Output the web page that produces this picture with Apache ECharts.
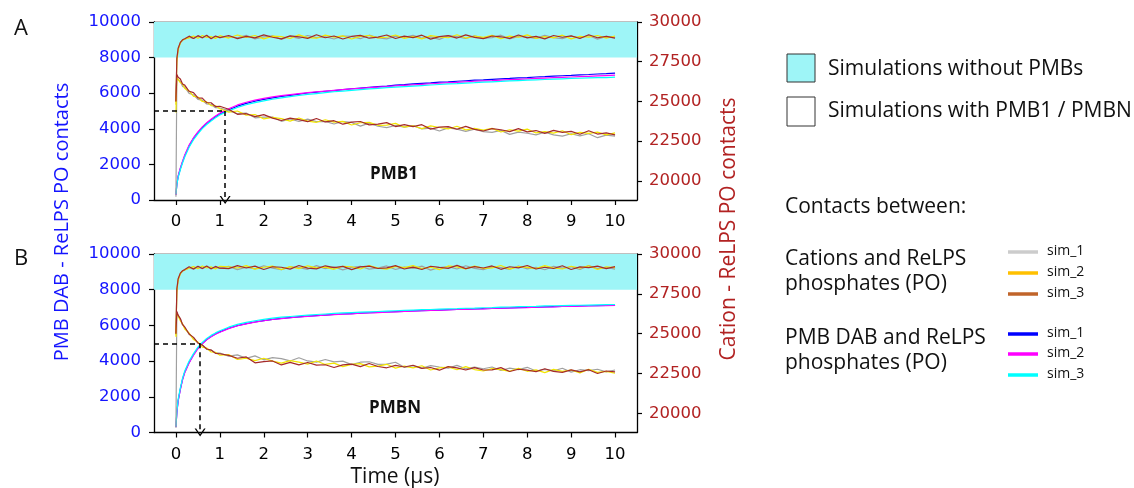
<!DOCTYPE html>
<html>
<head>
<meta charset="utf-8">
<script src="https://cdn.jsdelivr.net/npm/echarts@6/dist/echarts.min.js"></script>
<style>
html,body{margin:0;padding:0;background:#fff;}
#chart{width:1134px;height:488px;}
</style>
</head>
<body>
<div id="chart"></div>
<script>
// ---------------- DATA ----------------
const times = [0, 0.02, 0.05, 0.1, 0.15, 0.2, 0.3, 0.4, 0.5, 0.6, 0.7, 0.8, 0.9, 1.0,
  1.2, 1.4, 1.6, 1.8, 2.0, 2.2, 2.4, 2.6, 2.8, 3.0, 3.2, 3.4, 3.6, 3.8, 4.0,
  4.2, 4.4, 4.6, 4.8, 5.0, 5.2, 5.4, 5.6, 5.8, 6.0, 6.2, 6.4, 6.6, 6.8, 7.0,
  7.2, 7.4, 7.6, 7.8, 8.0, 8.2, 8.4, 8.6, 8.8, 9.0, 9.2, 9.4, 9.6, 9.8, 10.0];

const xTicks = [0, 1, 2, 3, 4, 5, 6, 7, 8, 9, 10];
const leftTicks = [0, 2000, 4000, 6000, 8000, 10000];
const rightTicks = [20000, 22500, 25000, 27500, 30000];
const bandRange = [8000, 10000];        // "Simulations without PMBs" shaded band (left axis units)
const aCross = [1.12, 5000];            // PMB1 crossing time
const bCross = [0.55, 5000];            // PMBN crossing time

// Panel A (PMB1) – PMB DAB / ReLPS PO contacts (left axis)
const aPmbSim1 = [300, 880, 1320, 1760, 2140, 2480, 3040, 3460, 3790, 4070, 4300, 4500, 4680, 4840,
  5070, 5270, 5430, 5550, 5650, 5740, 5820, 5880, 5950, 6010, 6060, 6110, 6150, 6200, 6250,
  6290, 6330, 6370, 6400, 6450, 6480, 6520, 6550, 6580, 6620, 6640, 6670, 6700, 6730, 6750,
  6780, 6810, 6830, 6860, 6880, 6910, 6930, 6960, 6980, 7000, 7030, 7050, 7080, 7100, 7130];
const aPmbSim2 = [280, 900, 1350, 1800, 2180, 2530, 3090, 3500, 3830, 4110, 4340, 4540, 4720, 4880,
  5130, 5340, 5490, 5610, 5710, 5790, 5860, 5920, 5980, 6030, 6080, 6120, 6160, 6200, 6240,
  6270, 6310, 6340, 6370, 6410, 6440, 6470, 6500, 6530, 6560, 6590, 6610, 6640, 6670, 6690,
  6710, 6740, 6760, 6780, 6810, 6830, 6850, 6870, 6890, 6910, 6930, 6950, 6970, 6990, 7010];
const aPmbSim3 = [320, 850, 1270, 1700, 2080, 2420, 2970, 3390, 3720, 4010, 4240, 4440, 4620, 4780,
  5010, 5200, 5350, 5470, 5570, 5660, 5740, 5810, 5870, 5930, 5980, 6030, 6080, 6120, 6160,
  6200, 6240, 6270, 6310, 6340, 6370, 6400, 6430, 6460, 6490, 6520, 6540, 6570, 6590, 6620,
  6640, 6660, 6690, 6710, 6730, 6750, 6770, 6790, 6810, 6830, 6840, 6860, 6870, 6880, 6900];

// Panel A – Cation / ReLPS PO contacts with PMB1 (right axis)
const aCatSim1 = [19000, 26450, 26350, 26260, 25950, 25900, 25510, 25420, 25130, 25080, 24840, 24810, 24610, 24590,
  24420, 24230, 24270, 23970, 24020, 24020, 23750, 23900, 23740, 23890, 23730, 23750, 23580, 23740, 23680,
  23450, 23640, 23440, 23350, 23490, 23380, 23480, 23270, 23320, 23140, 23340, 23260, 23120, 23260, 23100,
  23050, 23180, 22930, 23070, 23000, 22900, 23070, 22900, 22820, 22970, 22840, 22970, 22720, 22880, 22820];
const aCatSim2 = [24300, 26500, 26480, 26190, 26100, 25820, 25660, 25320, 25280, 25000, 24970, 24740, 24730, 24540,
  24330, 24400, 24140, 24180, 23900, 24000, 23920, 23760, 23960, 23760, 23690, 23850, 23700, 23750, 23520,
  23660, 23680, 23500, 23510, 23620, 23380, 23470, 23290, 23460, 23360, 23270, 23440, 23210, 23310, 23200,
  23310, 23080, 23220, 23130, 23260, 23020, 23110, 23010, 23160, 22910, 23060, 22990, 23070, 22900, 23020];
const aCatSim3 = [25000, 26700, 26520, 26420, 26100, 26030, 25640, 25560, 25230, 25210, 24930, 24920, 24680, 24700,
  24510, 24190, 24230, 24050, 24170, 23950, 23800, 23950, 23860, 23730, 23930, 23710, 23790, 23570, 23700,
  23740, 23530, 23570, 23670, 23420, 23540, 23420, 23540, 23260, 23390, 23420, 23250, 23430, 23240, 23140,
  23290, 23220, 23100, 23290, 23090, 23170, 22990, 23180, 23050, 23120, 22940, 23160, 22950, 23020, 22900];

// Panel A – Cation / ReLPS PO contacts without PMBs (right axis)
const aRefSim1 = [25200, 27600, 28300, 28700, 28850, 28920, 29050, 28960, 29100, 29000, 29130, 28980, 29080, 29010,
  29080, 29010, 29160, 28940, 29060, 29130, 28910, 29100, 28970, 29150, 29020, 29070, 28930, 29120, 29090,
  28950, 29170, 29000, 28940, 29110, 29030, 29160, 28980, 29060, 28910, 29140, 29080, 28960, 29130, 28990,
  29020, 29170, 28940, 29100, 29050, 28970, 29160, 29010, 28950, 29120, 29000, 29150, 28920, 29090, 29040];
const aRefSim2 = [24800, 27500, 28250, 28680, 28860, 28930, 29000, 29120, 28980, 29150, 29030, 29080, 28970, 29140,
  28990, 29180, 29030, 29150, 28940, 29110, 29080, 28960, 29190, 29020, 28980, 29170, 29050, 29130, 28930,
  29100, 29150, 29000, 29040, 29180, 28970, 29090, 28940, 29140, 29070, 29010, 29200, 28990, 29120, 29030,
  29160, 28950, 29110, 29040, 29190, 28970, 29080, 29000, 29170, 28940, 29100, 29050, 29150, 28990, 29120];
const aRefSim3 = [25000, 27700, 28350, 28720, 28880, 28950, 29110, 28960, 29140, 29010, 29170, 28950, 29120, 29020,
  29150, 28950, 29100, 29000, 29190, 29040, 28940, 29130, 29070, 28970, 29200, 29010, 29120, 28930, 29090,
  29160, 28980, 29050, 29180, 28960, 29110, 29020, 29170, 28920, 29080, 29140, 28990, 29190, 29030, 28950,
  29120, 29070, 28970, 29180, 29000, 29100, 28940, 29150, 29040, 29130, 28960, 29200, 29010, 29090, 28980];

// Panel B (PMBN) – PMB DAB / ReLPS PO contacts (left axis)
const bPmbSim1 = [310, 1120, 1780, 2430, 2980, 3380, 3930, 4360, 4720, 4990, 5210, 5380, 5520, 5640,
  5840, 5990, 6100, 6190, 6270, 6340, 6390, 6440, 6480, 6520, 6550, 6580, 6610, 6640, 6660,
  6690, 6710, 6730, 6750, 6770, 6790, 6810, 6820, 6840, 6860, 6880, 6890, 6910, 6920, 6940,
  6950, 6970, 6980, 7000, 7010, 7020, 7040, 7050, 7060, 7070, 7090, 7100, 7110, 7120, 7140];
const bPmbSim2 = [300, 1100, 1750, 2400, 2950, 3350, 3900, 4330, 4690, 4970, 5190, 5360, 5500, 5620,
  5820, 5980, 6090, 6180, 6260, 6330, 6380, 6430, 6470, 6510, 6540, 6570, 6600, 6630, 6650,
  6680, 6700, 6720, 6740, 6760, 6780, 6800, 6820, 6840, 6850, 6870, 6890, 6900, 6920, 6930,
  6950, 6960, 6980, 6990, 7000, 7020, 7030, 7040, 7060, 7070, 7080, 7090, 7100, 7110, 7120];
const bPmbSim3 = [330, 1200, 1850, 2500, 3050, 3450, 4000, 4420, 4780, 5050, 5270, 5440, 5580, 5700,
  5900, 6060, 6170, 6260, 6340, 6410, 6460, 6500, 6540, 6580, 6610, 6640, 6670, 6700, 6720,
  6740, 6760, 6780, 6800, 6820, 6840, 6860, 6880, 6890, 6910, 6930, 6940, 6960, 6970, 6990,
  7000, 7020, 7030, 7050, 7060, 7070, 7090, 7100, 7110, 7120, 7130, 7140, 7150, 7160, 7170];

// Panel B – Cation / ReLPS PO contacts with PMBN (right axis)
const bCatSim1 = [19100, 26350, 26120, 25920, 25550, 25400, 24960, 24750, 24400, 24280, 24020, 23980, 23790, 23780,
  23590, 23670, 23450, 23610, 23360, 23500, 23440, 23290, 23490, 23290, 23220, 23380, 23230, 23280, 23060,
  23210, 23240, 23070, 23090, 23210, 22890, 22990, 22820, 23000, 22910, 22840, 23010, 22790, 22900, 22800,
  22910, 22690, 22840, 22750, 22890, 22660, 22760, 22670, 22830, 22590, 22740, 22680, 22770, 22600, 22720];
const bCatSim2 = [24800, 26300, 26190, 25810, 25620, 25290, 25040, 24630, 24470, 24160, 24100, 23850, 23830, 23650,
  23690, 23380, 23460, 23310, 23460, 23280, 23150, 23310, 23220, 23090, 23290, 23070, 23150, 22930, 23070,
  23120, 22920, 22970, 23080, 22840, 22970, 22860, 22990, 22720, 22860, 22910, 22740, 22930, 22750, 22660,
  22810, 22750, 22640, 22830, 22640, 22730, 22560, 22760, 22640, 22720, 22540, 22770, 22570, 22640, 22520];
const bCatSim3 = [25000, 26400, 26160, 25950, 25580, 25420, 24980, 24770, 24420, 24290, 24040, 23970, 23770, 23740,
  23640, 23460, 23540, 23170, 23250, 23290, 23040, 23200, 23040, 23190, 23030, 23050, 22880, 23040, 23090,
  22930, 23130, 22940, 22860, 23010, 22910, 23020, 22820, 22880, 22710, 22930, 22850, 22720, 22870, 22720,
  22730, 22870, 22630, 22770, 22710, 22620, 22800, 22640, 22570, 22730, 22600, 22740, 22500, 22660, 22600];

// Panel B – Cation / ReLPS PO contacts without PMBs (right axis)
const bRefSim1 = [25200, 27700, 28400, 28780, 28920, 29000, 29140, 29050, 29190, 29080, 29220, 29060, 29170, 29100,
  29220, 29020, 29170, 29070, 29260, 29110, 29010, 29200, 29140, 29040, 29270, 29080, 29190, 29000, 29160,
  29230, 29050, 29120, 29250, 29030, 29180, 29090, 29240, 28990, 29150, 29210, 29060, 29260, 29100, 29020,
  29190, 29140, 29040, 29250, 29070, 29170, 29010, 29220, 29110, 29200, 29030, 29270, 29080, 29160, 29050];
const bRefSim2 = [24900, 27600, 28350, 28760, 28930, 29000, 29110, 29210, 29080, 29250, 29120, 29190, 29060, 29230,
  29190, 29120, 29270, 29050, 29170, 29240, 29020, 29210, 29080, 29260, 29130, 29180, 29040, 29230, 29200,
  29060, 29280, 29110, 29050, 29220, 29140, 29270, 29090, 29170, 29020, 29250, 29190, 29070, 29240, 29100,
  29130, 29280, 29050, 29210, 29160, 29080, 29270, 29120, 29060, 29230, 29110, 29260, 29030, 29200, 29150];
const bRefSim3 = [25000, 27800, 28450, 28800, 28950, 29020, 29200, 29060, 29230, 29090, 29250, 29070, 29220, 29110,
  29080, 29270, 29120, 29240, 29030, 29200, 29170, 29050, 29280, 29110, 29070, 29260, 29140, 29220, 29020,
  29190, 29240, 29090, 29130, 29270, 29060, 29180, 29030, 29230, 29160, 29100, 29290, 29080, 29210, 29120,
  29250, 29040, 29200, 29130, 29280, 29060, 29170, 29090, 29260, 29030, 29190, 29140, 29240, 29080, 29210];

// ---------------- STYLE ----------------
const BLUE = '#0000ff', MAG = '#ff00ff', CYAN = '#00ffff';
const GRAY = '#a0a0a0', YEL = '#f2e600', BRN = '#a52a2a';
const LEFT_COL = '#1414ff', RIGHT_COL = '#b22222';
const BAND = '#9ef5f7';
const TICK_FONT = 'DejaVu Sans';
const TEXT_FONT = '"Open Sans", "Noto Sans", sans-serif';

function line(vals, xi, yi, color, z, w) {
  return {
    type: 'line', xAxisIndex: xi, yAxisIndex: yi,
    data: times.map((t, i) => [t, vals[i]]),
    showSymbol: false, symbol: 'none', silent: true, z: z,
    lineStyle: { color: color, width: w || 1.2 }, itemStyle: { color: color },
    emphasis: { disabled: true }, animation: false
  };
}

const chevron = 'path://M0,10 L5,0 L10,10 L8.6,10 L5,2.8 L1.4,10 Z';
function helper(xi, yi, cross) {
  return {
    type: 'line', xAxisIndex: xi, yAxisIndex: yi, z: 1, silent: true, animation: false,
    data: [cross], showSymbol: false, symbol: 'none', lineStyle: { opacity: 0 },
    markArea: {
      silent: true, itemStyle: { color: BAND },
      data: [[{ yAxis: bandRange[0] }, { yAxis: bandRange[1] }]]
    },
    markLine: {
      silent: true, animation: false, symbol: ['none', 'none'],
      label: { show: false },
      lineStyle: { color: '#000', width: 1.5, type: [5, 4] },
      data: [
        [{ coord: [-0.5, cross[1]] }, { coord: [cross[0], cross[1]] }],
        [{ coord: [cross[0], cross[1]], symbol: 'none' },
         { coord: [cross[0], 0], symbol: chevron, symbolSize: [11, 8] }]
      ]
    }
  };
}

const plain = v => String(v);
function xAx(gi, bottom) {
  return {
    type: 'value', gridIndex: gi, min: -0.5, max: 10.5,
    position: bottom ? 'bottom' : 'top',
    axisLine: { show: true, onZero: false, lineStyle: { color: '#000', width: 1.3 } },
    axisTick: { show: bottom, customValues: xTicks, length: 5, lineStyle: { color: '#000', width: 1.2 } },
    axisLabel: { show: bottom, customValues: xTicks, formatter: plain, color: '#000', fontSize: 16.5, fontFamily: TICK_FONT, margin: gi === 0 ? 13 : 14 },
    splitLine: { show: false }
  };
}
function yLeft(gi) {
  return {
    type: 'value', gridIndex: gi, position: 'left', min: 0, max: 10000, interval: 2000,
    axisLine: { show: true, onZero: false, lineStyle: { color: '#000', width: 1.3 } },
    axisTick: { show: true, length: 5, lineStyle: { color: '#000', width: 1.2 } },
    axisLabel: { formatter: plain, color: LEFT_COL, fontSize: 16.5, fontFamily: TICK_FONT, margin: 13 },
    splitLine: { show: false }
  };
}
function yRight(gi) {
  return {
    type: 'value', gridIndex: gi, position: 'right', min: 18800, max: 30000,
    axisLine: { show: true, onZero: false, lineStyle: { color: '#000', width: 1.3 } },
    axisTick: { show: true, customValues: rightTicks, length: 5, lineStyle: { color: '#000', width: 1.2 } },
    axisLabel: { customValues: rightTicks, formatter: plain, color: RIGHT_COL, fontSize: 16.5, fontFamily: TICK_FONT, margin: 12 },
    splitLine: { show: false }
  };
}

function txt(x, y, text, size) {
  return {
    type: 'text', x: x, y: y, silent: true,
    style: {
      text: text, fill: '#111', font: size + 'px ' + TEXT_FONT,
      align: 'left', verticalAlign: 'middle', textAlign: 'left', textVerticalAlign: 'middle'
    }
  };
}
function centerTxt(x, y, text, size, color, rot, weight) {
  return {
    type: 'text', x: x, y: y, rotation: rot || 0, silent: true,
    style: {
      text: text, fill: color, font: (weight ? weight + ' ' : '') + size + 'px ' + TEXT_FONT,
      align: 'center', verticalAlign: 'middle', textAlign: 'center', textVerticalAlign: 'middle'
    }
  };
}
function legLine(y, color) {
  return { type: 'line', silent: true, shape: { x1: 1008, y1: y, x2: 1038, y2: y }, style: { stroke: color, lineWidth: 3.5 } };
}

const graphic = [
  centerTxt(21, 29, 'A', 22, '#111'),
  centerTxt(21, 259, 'B', 22, '#111'),
  centerTxt(62, 222, 'PMB DAB - ReLPS PO contacts', 20, LEFT_COL, Math.PI / 2),
  centerTxt(729, 229, 'Cation - ReLPS PO contacts', 21, RIGHT_COL, Math.PI / 2),
  centerTxt(395, 477, 'Time (µs)', 21, '#111'),
  centerTxt(394, 174, 'PMB1', 17, '#111', 0, 'bold'),
  centerTxt(395, 408, 'PMBN', 17, '#111', 0, 'bold'),
  { type: 'rect', silent: true, shape: { x: 787, y: 54, width: 28, height: 28 }, style: { fill: BAND, stroke: '#333', lineWidth: 1 } },
  txt(828, 69, 'Simulations without PMBs', 21),
  { type: 'rect', silent: true, shape: { x: 787, y: 97, width: 28, height: 29 }, style: { fill: '#fff', stroke: '#333', lineWidth: 1 } },
  txt(828, 111, 'Simulations with PMB1 / PMBN', 21),
  txt(785, 207, 'Contacts between:', 21),
  txt(785, 259, 'Cations and ReLPS', 21),
  txt(785, 284, 'phosphates (PO)', 21),
  txt(785, 338, 'PMB DAB and ReLPS', 21),
  txt(785, 363, 'phosphates (PO)', 21),
  legLine(252, '#cccccc'), legLine(273, '#ffc000'), legLine(294, '#c0642a'),
  legLine(334, '#0000ff'), legLine(354, '#ff00ff'), legLine(375, '#00ffff'),
  txt(1047, 251, 'sim_1', 14), txt(1047, 272, 'sim_2', 14), txt(1047, 293, 'sim_3', 14),
  txt(1047, 333, 'sim_1', 14), txt(1047, 353, 'sim_2', 14), txt(1047, 374, 'sim_3', 14)
];

const series = [
  helper(0, 0, aCross),
  helper(1, 2, bCross),
  line(aPmbSim1, 0, 0, BLUE, 2), line(aPmbSim2, 0, 0, MAG, 2), line(aPmbSim3, 0, 0, CYAN, 2),
  line(bPmbSim1, 1, 2, BLUE, 2), line(bPmbSim2, 1, 2, MAG, 2), line(bPmbSim3, 1, 2, CYAN, 2),
  line(aRefSim1, 0, 1, GRAY, 3), line(aRefSim2, 0, 1, YEL, 3), line(aRefSim3, 0, 1, BRN, 3),
  line(aCatSim1, 0, 1, GRAY, 3), line(aCatSim2, 0, 1, YEL, 3), line(aCatSim3, 0, 1, BRN, 3),
  line(bRefSim1, 1, 3, GRAY, 3), line(bRefSim2, 1, 3, YEL, 3), line(bRefSim3, 1, 3, BRN, 3),
  line(bCatSim1, 1, 3, GRAY, 3), line(bCatSim2, 1, 3, YEL, 3), line(bCatSim3, 1, 3, BRN, 3)
];

const chart = echarts.init(document.getElementById('chart'), null, { renderer: 'canvas' });
chart.setOption({
  animation: false,
  backgroundColor: '#fff',
  textStyle: { fontFamily: TEXT_FONT },
  grid: [
    { left: 154, top: 22, width: 483, height: 178 },
    { left: 154, top: 254, width: 483, height: 178.5 }
  ],
  xAxis: [xAx(0, true), xAx(1, true), xAx(0, false), xAx(1, false)],
  yAxis: [yLeft(0), yRight(0), yLeft(1), yRight(1)],
  graphic: graphic,
  series: series
});
</script>
</body>
</html>
